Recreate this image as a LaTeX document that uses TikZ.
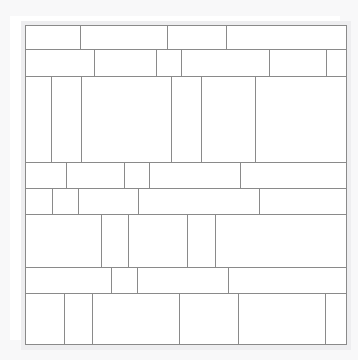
\documentclass[tikz,border=0pt]{standalone}
\begin{document}
\begin{tikzpicture}[x=1pt,y=-1pt,
  grid/.style={draw=gridgray,line width=0.9pt},
  halo/.style={draw=halogray,line width=5pt}]
\definecolor{gridgray}{HTML}{8A8A8A}
\definecolor{halogray}{HTML}{EEEEF0}
\definecolor{bggray}{HTML}{F8F8F9}
\useasboundingbox (0,0) rectangle (358,360);
\fill[bggray] (0,0) rectangle (358,360);
\fill[white] (10,16) rectangle (340,340);
\draw[halo] (24,23.5) rectangle (349,347.5);
\fill[white] (25.5,25) rectangle (346.3,344.7);
% horizontal rows: 25, 49.3, 76, 162.3, 188, 214, 267, 293, 344.7
\foreach \y in {49.3,76,162.3,188,214,267,293}
  \draw[grid] (25.5,\y) -- (346.3,\y);
% row 1
\foreach \x in {80.7,167.7,226.7} \draw[grid] (\x,25) -- (\x,49.3);
% row 2
\foreach \x in {94.7,156.3,181.3,269,326.7} \draw[grid] (\x,49.3) -- (\x,76);
% row 3
\foreach \x in {51.3,81,171.7,201.3,255} \draw[grid] (\x,76) -- (\x,162.3);
% row 4
\foreach \x in {66.7,124.3,149.7,240.7} \draw[grid] (\x,162.3) -- (\x,188);
% row 5
\foreach \x in {52,78,138.3,259.7} \draw[grid] (\x,188) -- (\x,214);
% row 6
\foreach \x in {101,128,187.3,215} \draw[grid] (\x,214) -- (\x,267);
% row 7
\foreach \x in {111.3,137.3,228} \draw[grid] (\x,267) -- (\x,293);
% row 8
\foreach \x in {64.3,92.3,179,238,325} \draw[grid] (\x,293) -- (\x,344.7);
\draw[grid] (25.5,25) rectangle (346.3,344.7);
\end{tikzpicture}
\end{document}
